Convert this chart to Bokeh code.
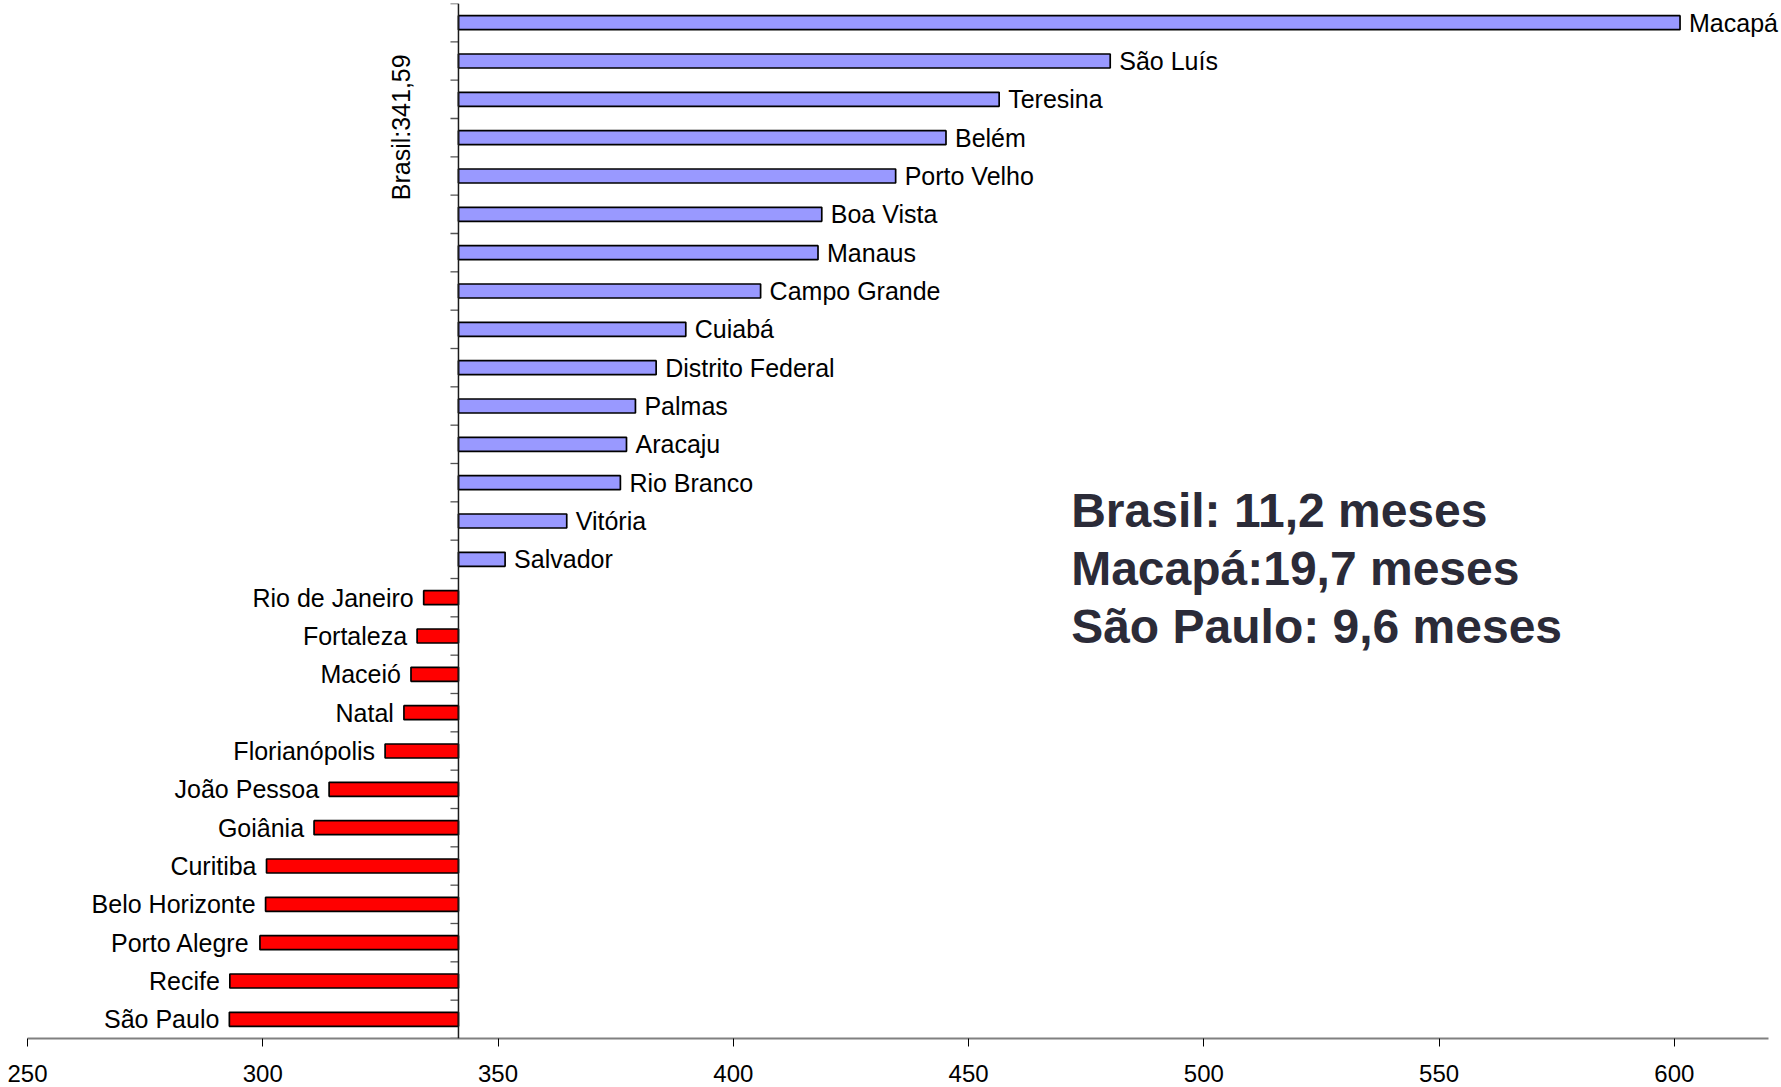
import numpy as np
from bokeh.plotting import figure
from bokeh.models import (Range1d, ColumnDataSource, LabelSet, Label, Span,
                          FixedTicker)
from bokeh.core.properties import value
from bokeh.embed import file_html
from bokeh.resources import INLINE

# Average duration per capital (days), top to bottom
cities = ["Macapá", "São Luís", "Teresina", "Belém", "Porto Velho", "Boa Vista",
          "Manaus", "Campo Grande", "Cuiabá", "Distrito Federal", "Palmas",
          "Aracaju", "Rio Branco", "Vitória", "Salvador", "Rio de Janeiro",
          "Fortaleza", "Maceió", "Natal", "Florianópolis", "João Pessoa",
          "Goiânia", "Curitiba", "Belo Horizonte", "Porto Alegre", "Recife",
          "São Paulo"]
days = [601.2, 480.1, 456.5, 445.2, 434.5, 418.8, 418.0, 405.8, 389.9, 383.6,
        379.2, 377.3, 376.0, 364.6, 351.5, 334.2, 332.8, 331.5, 330.0, 326.0,
        314.1, 310.9, 300.8, 300.6, 299.4, 293.0, 292.9]
brasil = 341.59
brasil_label = "Brasil:341,59"
x_ticks = [250, 300, 350, 400, 450, 500, 550, 600]
summary = ["Brasil: 11,2 meses", "Macapá:19,7 meses", "São Paulo: 9,6 meses"]

FONT = "Liberation Sans"
n = len(cities)
ys = [n - 1 - i for i in range(n)]

X0, X1 = 250, 620          # extent of the value axis
W, H = 1781, 1087
BL, BT, BB = 27, 3, 49
AXIS_GAP_RIGHT = 13        # blank space right of the axis end
px_per_unit = (W - BL - AXIS_GAP_RIGHT) / (X1 - X0)
# the frame runs to the right edge so long labels are not cut off
x_view_end = X0 + (W - BL) / px_per_unit

p = figure(width=W, height=H, x_range=Range1d(X0, x_view_end),
           y_range=Range1d(-0.5, n - 0.5), y_axis_location=None,
           output_backend="svg", toolbar_location=None,
           min_border_left=BL, min_border_right=0,
           min_border_top=BT, min_border_bottom=BB)
p.grid.visible = False
p.outline_line_color = None
p.background_fill_color = "white"
p.border_fill_color = "white"

above = [i for i in range(n) if days[i] >= brasil]
below = [i for i in range(n) if days[i] < brasil]

src_up = ColumnDataSource(dict(y=[ys[i] for i in above],
                               v=[days[i] for i in above],
                               name=[cities[i] for i in above]))
src_dn = ColumnDataSource(dict(y=[ys[i] for i in below],
                               v=[days[i] for i in below],
                               name=[cities[i] for i in below]))

BAR_H = 0.365
p.hbar(y="y", left=brasil, right="v", height=BAR_H, source=src_up,
       fill_color="#9999FF", line_color="black", line_width=1.7)
p.hbar(y="y", left="v", right=brasil, height=BAR_H, source=src_dn,
       fill_color="#FF0000", line_color="black", line_width=1.7)

# vertical reference axis at the national average
p.add_layout(Span(location=brasil, dimension="height", line_color="#1a1a1a",
                  line_width=1.5))
bounds = [k - 0.5 for k in range(n + 1)]
tick_len = 8 / px_per_unit
p.segment(x0=[brasil - tick_len] * len(bounds), x1=[brasil] * len(bounds),
          y0=bounds, y1=bounds, line_color="#555555", line_width=1.3)

p.add_layout(LabelSet(x="v", y="y", text="name", source=src_up, x_offset=9,
                      text_align="left", text_baseline="middle",
                      text_font=value(FONT), text_font_size="25px",
                      text_color="black"))
p.add_layout(LabelSet(x="v", y="y", text="name", source=src_dn, x_offset=-10,
                      text_align="right", text_baseline="middle",
                      text_font=value(FONT), text_font_size="25px",
                      text_color="black"))

p.add_layout(Label(x=brasil, y=23.27, x_offset=-57, text=brasil_label,
                   angle=np.pi / 2, text_align="center", text_baseline="middle",
                   text_font=FONT, text_font_size="25px", text_color="black"))

# summary block
for txt, yy in zip(summary, [13.27, 11.76, 10.24]):
    p.add_layout(Label(x=471.8, y=yy, text=txt, text_align="left",
                       text_baseline="alphabetic", text_font=FONT,
                       text_font_size="48px", text_font_style="bold",
                       text_color="#2b2b38"))

ax = p.xaxis[0]
ax.bounds = (X0, X1)
ax.ticker = FixedTicker(ticks=x_ticks)
ax.minor_tick_line_color = None
ax.axis_line_color = "#808080"
ax.axis_line_width = 2
ax.major_tick_line_color = "black"
ax.major_tick_line_width = 1
ax.major_tick_in = 0
ax.major_tick_out = 8
ax.major_label_standoff = 18
ax.major_label_text_line_height = 0.8
ax.major_label_text_font = FONT
ax.major_label_text_font_size = "24px"
ax.major_label_text_color = "black"

open("out.html", "w").write(file_html(p, INLINE))
